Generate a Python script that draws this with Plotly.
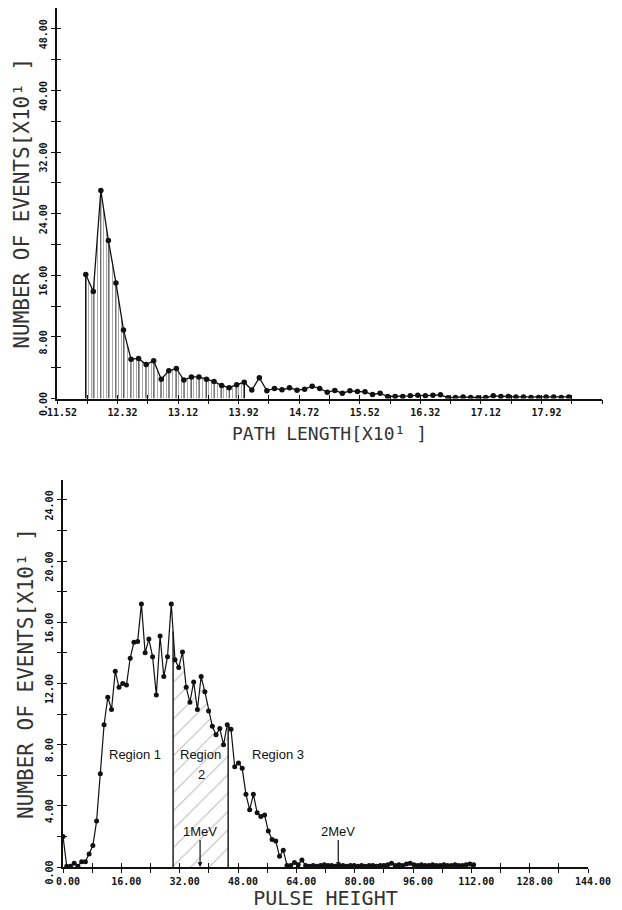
import numpy as np
import plotly.graph_objects as go

# ---------------- data: top panel (path length) ----------------
PATH_START = 11.90          # first bin position [x10 units]
PATH_BIN = 0.0997           # bin width
PATH_COUNTS = [16.1, 13.9, 27.0, 20.5, 15.0, 8.9, 5.1, 5.2, 4.4, 4.9,
               2.5, 3.6, 3.9, 2.4, 2.8, 2.8, 2.5, 2.2, 1.7, 1.4,
               1.8, 2.1, 1.1, 2.7,
               1.0, 1.3, 1.13, 1.39, 1.08, 1.21, 1.6, 1.3, 0.82, 1.04,
               0.69, 1.0, 0.91, 0.87, 0.52, 0.69, 0.26, 0.26, 0.26, 0.35,
               0.43, 0.35, 0.43, 0.48, 0.1, 0.13, 0.2, 0.13, 0.1, 0.13,
               0.35, 0.26, 0.26, 0.2, 0.2, 0.13, 0.13, 0.2, 0.2, 0.13, 0.2]
PATH_HATCH_LAST = 21        # last hatched bin index
PATH_X_TICKS = [11.52, 11.92, 12.32, 12.72, 13.12, 13.52, 13.92, 14.32, 14.72,
                15.12, 15.52, 15.92, 16.32, 16.72, 17.12, 17.52, 17.92, 18.32, 18.72]
PATH_X_LABELS = ["11.52", "", "12.32", "", "13.12", "", "13.92", "", "14.72", "",
                 "15.52", "", "16.32", "", "17.12", "", "17.92", "", "18.72"]
PATH_Y_TICKS = [0, 4, 8, 12, 16, 20, 24, 28, 32, 36, 40, 44, 48]
PATH_Y_LABELS = ["0.00", "", "8.00", "", "16.00", "", "24.00", "", "32.00", "",
                 "40.00", "", "48.00"]

# ---------------- data: bottom panel (pulse height) ----------------
CHANNEL_WIDTH = 1.024
PULSE_COUNTS = [2.0, 0.05, 0.05, 0.25, 0.05, 0.35, 0.35, 0.85, 1.4, 3.0,
                6.1, 9.3, 11.1, 10.3, 12.8, 11.75, 12.0, 11.9, 13.65, 14.7,
                14.75, 17.2, 14.0, 14.9, 13.75, 11.25, 15.1, 12.45, 13.75, 17.2,
                13.55, 13.05, 14.05, 11.75, 10.77, 12.1, 10.3, 12.45, 11.45, 10.2,
                9.2, 8.65, 9.05, 8.0, 9.3, 9.0, 6.55, 6.8, 6.45, 4.75,
                3.75, 4.75, 3.55, 3.3, 3.4, 2.35, 1.8, 1.7, 0.7, 1.1,
                0.1, 0.1, 0.3, 0.15, 0.45, 0.1, 0.05, 0.1, 0.05, 0.1,
                0.15, 0.1, 0.1, 0.05, 0.1, 0.1, 0.05, 0.1, 0.1, 0.05,
                0.1, 0.05, 0.1, 0.1, 0.05, 0.1, 0.1, 0.15, 0.25, 0.1,
                0.15, 0.1, 0.2, 0.25, 0.15, 0.1, 0.15, 0.1, 0.1, 0.15,
                0.1, 0.1, 0.15, 0.1, 0.1, 0.15, 0.1, 0.1, 0.15, 0.2, 0.15]
REGION_BOUNDS = [30.2, 45.3]
MEV_MARKS = [37.6, 75.5]
MEV_LABELS = ["1MeV", "2MeV"]
REGION_LABELS = ["Region 1", "Region", "2", "Region 3"]
PULSE_X_TICKS = list(range(0, 145, 8))
PULSE_X_LABELS = [f"{v:.2f}" if v % 16 == 0 else "" for v in PULSE_X_TICKS]
PULSE_Y_TICKS = list(range(0, 25, 2))
PULSE_Y_LABELS = [f"{v:.2f}" if v % 4 == 0 else "" for v in PULSE_Y_TICKS]

Y_TITLE = "NUMBER OF EVENTS[X10¹ ]"
X_TITLE_TOP = "PATH LENGTH[X10¹ ]"
X_TITLE_BOTTOM = "PULSE HEIGHT"

# ---------------- geometry (page has an 8px body margin) ----------------
PAGE_W, PAGE_H, OFF = 622, 910, 8
W, H = PAGE_W - OFF, PAGE_H - OFF
path_x = [PATH_START + PATH_BIN * i for i in range(len(PATH_COUNTS))]
pulse_x = [CHANNEL_WIDTH * i for i in range(len(PULSE_COUNTS))]

INK = "#111111"
TICKFONT = dict(family="DejaVu Sans Mono", size=10, color=INK, weight=700)
LABELFONT = dict(family="Liberation Sans", size=13, color=INK)


def title_font(size):
    return dict(family="DejaVu Sans Mono", size=size, color="#333333")


fig = go.Figure()

# ---- top panel ----
hx = path_x[:PATH_HATCH_LAST + 1]
hy = PATH_COUNTS[:PATH_HATCH_LAST + 1]
fig.add_trace(go.Scatter(
    x=hx, y=hy, mode="none", fill="tozeroy", xaxis="x", yaxis="y",
    fillcolor="rgba(0,0,0,0)",
    fillpattern=dict(shape="|", size=3, solidity=0.3, fgcolor="#444444",
                     bgcolor="rgba(255,255,255,0)"),
    hoverinfo="skip", showlegend=False))
sx, sy = [], []
for xv, yv in zip(hx, hy):
    sx += [xv, xv, None]
    sy += [0, yv, None]
fig.add_trace(go.Scatter(x=sx, y=sy, mode="lines", xaxis="x", yaxis="y",
                         line=dict(color="#333333", width=0.8),
                         hoverinfo="skip", showlegend=False))
ex = [hx[0], hx[0], None, hx[-1], hx[-1]]
ey = [0, hy[0], None, 0, hy[-1]]
fig.add_trace(go.Scatter(x=ex, y=ey, mode="lines", xaxis="x", yaxis="y",
                         line=dict(color=INK, width=1.4),
                         hoverinfo="skip", showlegend=False))
fig.add_trace(go.Scatter(x=path_x, y=PATH_COUNTS, mode="lines+markers",
                         xaxis="x", yaxis="y",
                         line=dict(color=INK, width=1.3),
                         marker=dict(color=INK, size=5.5),
                         showlegend=False))

# ---- bottom panel ----
b1, b2 = REGION_BOUNDS
inner = [(xv, yv) for xv, yv in zip(pulse_x, PULSE_COUNTS) if b1 < xv < b2]
v1 = float(np.interp(b1, pulse_x, PULSE_COUNTS))
v2 = float(np.interp(b2, pulse_x, PULSE_COUNTS))
rx = [b1] + [p[0] for p in inner] + [b2]
ry = [v1] + [p[1] for p in inner] + [v2]
fig.add_trace(go.Scatter(
    x=rx, y=ry, mode="none", fill="tozeroy", xaxis="x2", yaxis="y2",
    fillcolor="rgba(0,0,0,0)",
    fillpattern=dict(shape="/", size=13, solidity=0.08, fgcolor="#777777",
                     bgcolor="rgba(255,255,255,0)"),
    hoverinfo="skip", showlegend=False))
fig.add_trace(go.Scatter(x=[b1, b1, None, b2, b2], y=[0, v1, None, 0, v2],
                         mode="lines", xaxis="x2", yaxis="y2",
                         line=dict(color=INK, width=1.4),
                         hoverinfo="skip", showlegend=False))
fig.add_trace(go.Scatter(x=pulse_x, y=PULSE_COUNTS, mode="lines+markers",
                         xaxis="x2", yaxis="y2",
                         line=dict(color=INK, width=1.2),
                         marker=dict(color=INK, size=5),
                         showlegend=False))

# dummy traces for the inner half of the "+" ticks
fig.add_trace(go.Scatter(x=[None], y=[None], xaxis="x3", yaxis="y3", showlegend=False))
fig.add_trace(go.Scatter(x=[None], y=[None], xaxis="x4", yaxis="y4", showlegend=False))


def hdom(left_px, right_px):
    return [(left_px - OFF) / W, (right_px - OFF) / W]


def vdom(bottom_px, top_px):
    return [1 - (bottom_px - OFF) / H, min(1.0, 1 - (top_px - OFF) / H)]


top_xdom = hdom(57, 602)
top_ydom = vdom(398.5, 8)
bot_xdom = hdom(63, 588)
bot_ydom = vdom(867, 480)
TOP_YRANGE = [0, 50.7]
BOT_YRANGE = [0, 25.3]
TOP_XRANGE = [11.52, 18.72]
BOT_XRANGE = [0, 144]


def main_axis(dom, rng, anchor, tickvals, ticktext, title, tsize, is_y, shift, standoff):
    d = dict(domain=dom, range=rng, anchor=anchor, showline=True, linecolor=INK,
             linewidth=1.5, ticks="outside", ticklen=4, tickwidth=1.2, tickcolor=INK,
             tickvals=tickvals, ticktext=ticktext, tickfont=TICKFONT,
             showgrid=False, zeroline=False, ticklabelshift=shift, automargin=False,
             title=dict(text=title, font=title_font(tsize), standoff=standoff))
    if is_y:
        d["tickangle"] = -90
    return d


def inner_axis(dom, rng, anchor, overlay, tickvals):
    return dict(domain=dom, range=rng, anchor=anchor, overlaying=overlay,
                showline=False, ticks="inside", ticklen=4, tickwidth=1.2,
                tickcolor=INK, tickvals=tickvals, showticklabels=False,
                showgrid=False, zeroline=False, automargin=False)


fig.update_layout(
    width=W, height=H, margin=dict(l=0, r=0, t=0, b=0, autoexpand=False),
    paper_bgcolor="white", plot_bgcolor="white", showlegend=False,
    xaxis=main_axis(top_xdom, TOP_XRANGE, "y", PATH_X_TICKS, PATH_X_LABELS,
                    X_TITLE_TOP, 18, False, 5, 10),
    yaxis=main_axis(top_ydom, TOP_YRANGE, "x", PATH_Y_TICKS, PATH_Y_LABELS,
                    Y_TITLE, 21, True, 7, 3),
    xaxis2=main_axis(bot_xdom, BOT_XRANGE, "y2", PULSE_X_TICKS, PULSE_X_LABELS,
                     X_TITLE_BOTTOM, 20, False, 5, 5),
    yaxis2=main_axis(bot_ydom, BOT_YRANGE, "x2", PULSE_Y_TICKS, PULSE_Y_LABELS,
                     Y_TITLE, 21, True, 7, 5),
    xaxis3=inner_axis(top_xdom, TOP_XRANGE, "y", "x", PATH_X_TICKS),
    yaxis3=inner_axis(top_ydom, TOP_YRANGE, "x", "y", PATH_Y_TICKS),
    xaxis4=inner_axis(bot_xdom, BOT_XRANGE, "y2", "x2", PULSE_X_TICKS),
    yaxis4=inner_axis(bot_ydom, BOT_YRANGE, "x2", "y2", PULSE_Y_TICKS),
)

# region labels
for text, xv, yv in [(REGION_LABELS[0], 19.7, 7.38), (REGION_LABELS[1], 37.85, 7.38),
                     (REGION_LABELS[2], 38.0, 6.07), (REGION_LABELS[3], 59.0, 7.38)]:
    fig.add_annotation(x=xv, y=yv, xref="x2", yref="y2", text=text, showarrow=False,
                       font=LABELFONT)

# MeV arrows
for xv, text in zip(MEV_MARKS, MEV_LABELS):
    fig.add_annotation(x=xv, y=0, xref="x2", yref="y2", text=text, showarrow=True,
                       arrowhead=2, arrowsize=0.8, arrowwidth=1.2, arrowcolor=INK,
                       ax=0, ay=-36, font=LABELFONT)

fig.write_html("out.html")
